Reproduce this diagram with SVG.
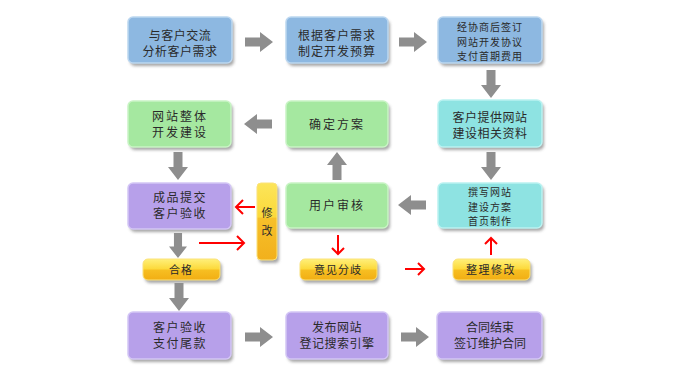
<svg xmlns="http://www.w3.org/2000/svg" width="692" height="383" viewBox="0 0 692 383">
<defs>
<filter id="sh" x="-20%" y="-20%" width="150%" height="160%"><feGaussianBlur stdDeviation="1.5"/></filter>
<linearGradient id="yl" x1="0" y1="0" x2="0" y2="1">
<stop offset="0" stop-color="#fff07a"/><stop offset="0.48" stop-color="#fcd93a"/><stop offset="0.52" stop-color="#f7bf22"/><stop offset="1" stop-color="#f2ae14"/>
</linearGradient>
<linearGradient id="yv" x1="0" y1="0" x2="0" y2="1">
<stop offset="0" stop-color="#fce55a"/><stop offset="0.44" stop-color="#fbd93a"/><stop offset="0.46" stop-color="#f6c02a"/><stop offset="1" stop-color="#f2b01c"/>
</linearGradient>
<path id="ar" d="M-14,-4.5 H1 V-10 L14,0 L1,10 V4.5 H-14 Z" fill="#8e8e8e"/>
</defs>
<style>
.t{font-family:"Noto Sans CJK SC","Noto Sans",sans-serif;font-size:12px;fill:#2a2a2a;text-anchor:middle}
.s{font-size:11px}
.xs{font-size:10px;letter-spacing:1px}
.shd{fill:#8a8a8a;opacity:0.75;filter:url(#sh)}
.blue{fill:#8db8e1;stroke:#bcd7f0;stroke-width:1.5}
.green{fill:#a5e8a0;stroke:#c9f4c5;stroke-width:1.5}
.cyan{fill:#8ee3e2;stroke:#baf2f1;stroke-width:1.5}
.purple{fill:#b7a0ea;stroke:#d3c6f5;stroke-width:1.5}
.yel{fill:url(#yl);stroke:#fbe27a;stroke-width:1}
.red{stroke:#ff0000;stroke-width:2;fill:none}
</style>
<rect width="692" height="383" fill="#ffffff"/>

<g id="n1"><rect class="shd" x="130" y="20" width="104" height="46" rx="5"/><rect class="blue" x="128" y="17" width="104" height="46" rx="5"/>
<text class="t" x="180" y="40" letter-spacing="0.5">与客户交流</text><text class="t" x="180" y="56" letter-spacing="0.5">分析客户需求</text></g>
<g id="n2"><rect class="shd" x="288" y="20" width="102" height="46" rx="5"/><rect class="blue" x="286" y="17" width="102" height="46" rx="5"/>
<text class="t" x="337" y="40" letter-spacing="1">根据客户需求</text><text class="t" x="337" y="56" letter-spacing="1">制定开发预算</text></g>
<g id="n3"><rect class="shd" x="440" y="20" width="104" height="46" rx="5"/><rect class="blue" x="438" y="17" width="104" height="46" rx="5"/>
<text class="t xs" x="490" y="31">经协商后签订</text><text class="t xs" x="490" y="45.5">网站开发协议</text><text class="t xs" x="490" y="60">支付首期费用</text></g>

<g id="n4"><rect class="shd" x="130" y="104" width="103" height="46" rx="5"/><rect class="green" x="128" y="101" width="103" height="46" rx="5"/>
<text class="t" x="180" y="121" letter-spacing="2">网站整体</text><text class="t" x="180" y="137" letter-spacing="2">开发建设</text></g>
<g id="n5"><rect class="shd" x="288" y="104" width="102" height="46" rx="5"/><rect class="green" x="286" y="101" width="102" height="46" rx="5"/>
<text class="t" x="337" y="129" letter-spacing="2">确定方案</text></g>
<g id="n6"><rect class="shd" x="440" y="103" width="104" height="47" rx="5"/><rect class="cyan" x="438" y="100" width="104" height="47" rx="5"/>
<text class="t" x="490" y="122" letter-spacing="0.5">客户提供网站</text><text class="t" x="490" y="138" letter-spacing="0.5">建设相关资料</text></g>

<g id="n7"><rect class="shd" x="130" y="186" width="103" height="46" rx="5"/><rect class="purple" x="128" y="183" width="103" height="46" rx="5"/>
<text class="t" x="180" y="202" letter-spacing="1.5">成品提交</text><text class="t" x="180" y="218" letter-spacing="1.5">客户验收</text></g>
<g id="n8"><rect class="shd" x="288" y="186" width="102" height="45" rx="5"/><rect class="green" x="286" y="183" width="102" height="45" rx="5"/>
<text class="t" x="337" y="210" letter-spacing="2">用户审核</text></g>
<g id="n9"><rect class="shd" x="440" y="186" width="104" height="45" rx="5"/><rect class="cyan" x="438" y="183" width="104" height="45" rx="5"/>
<text class="t xs" x="490" y="196">撰写网站</text><text class="t xs" x="490" y="210.5">建设方案</text><text class="t xs" x="490" y="225">首页制作</text></g>

<g id="n10"><rect class="shd" x="259" y="186" width="20" height="77" rx="4"/><rect x="257" y="183" width="20" height="77" rx="4" fill="url(#yv)" stroke="#fbe27a" stroke-width="1"/>
<text class="t s" x="267" y="217">修</text><text class="t s" x="267" y="235">改</text></g>
<g id="n11"><rect class="shd" x="145" y="262" width="77" height="21" rx="5"/><rect class="yel" x="143" y="259" width="77" height="21" rx="5"/>
<text class="t s" x="181" y="274" letter-spacing="1">合格</text></g>
<g id="n12"><rect class="shd" x="302" y="262" width="77" height="21" rx="5"/><rect class="yel" x="300" y="259" width="77" height="21" rx="5"/>
<text class="t s" x="338" y="274" letter-spacing="1">意见分歧</text></g>
<g id="n13"><rect class="shd" x="455" y="262" width="77" height="21" rx="5"/><rect class="yel" x="453" y="259" width="77" height="21" rx="5"/>
<text class="t s" x="491" y="274" letter-spacing="1.5">整理修改</text></g>

<g id="n14"><rect class="shd" x="130" y="315" width="103" height="47" rx="5"/><rect class="purple" x="128" y="312" width="103" height="47" rx="5"/>
<text class="t" x="180" y="332" letter-spacing="1.5">客户验收</text><text class="t" x="180" y="348" letter-spacing="1.5">支付尾款</text></g>
<g id="n15"><rect class="shd" x="288" y="315" width="102" height="47" rx="5"/><rect class="purple" x="286" y="312" width="102" height="47" rx="5"/>
<text class="t" x="337" y="332" letter-spacing="0.5">发布网站</text><text class="t" x="337" y="348" letter-spacing="0.5">登记搜索引擎</text></g>
<g id="n16"><rect class="shd" x="439" y="315" width="105" height="47" rx="5"/><rect class="purple" x="437" y="312" width="105" height="47" rx="5"/>
<text class="t" x="490" y="332">合同结束</text><text class="t" x="490" y="348">签订维护合同</text></g>

<g id="connectors">
<use href="#ar" transform="translate(259,42)"/>
<use href="#ar" transform="translate(413,42)"/>
<use href="#ar" transform="translate(491,84) rotate(90)"/>
<use href="#ar" transform="translate(258,124) rotate(180)"/>
<use href="#ar" transform="translate(178,166) rotate(90)"/>
<use href="#ar" transform="translate(337,166) rotate(-90)"/>
<use href="#ar" transform="translate(491,166) rotate(90)"/>
<use href="#ar" transform="translate(412,205) rotate(180)"/>
<use href="#ar" transform="translate(178,245.5) rotate(90) scale(0.9)"/>
<use href="#ar" transform="translate(179,297) rotate(90)"/>
<use href="#ar" transform="translate(259,337)"/>
<use href="#ar" transform="translate(415,337)"/>
<path class="red" d="M255,207 H236 M243,200 L236,207 L243,214"/>
<path class="red" d="M199,243 H244 M237,236 L244,243 L237,250"/>
<path class="red" d="M338,235 V254 M332,248 L338,254 L344,248"/>
<path class="red" d="M405,269 H424 M418,263 L424,269 L418,275"/>
<path class="red" d="M491,255 V238 M485,244 L491,238 L497,244"/>
</g>
</svg>
